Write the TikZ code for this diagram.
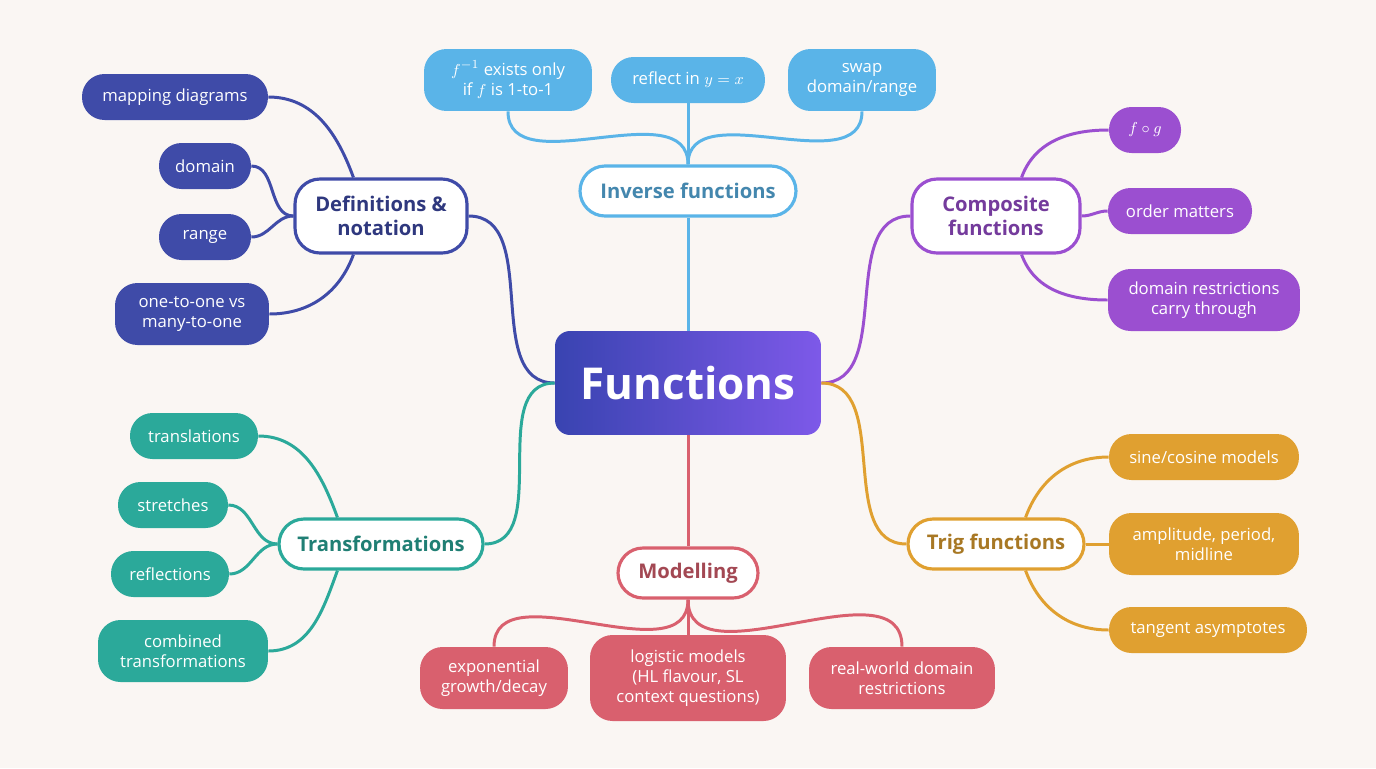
\documentclass[tikz,border=0pt]{standalone}
\usepackage{fontspec}
\setmainfont{Open Sans}
\usepackage{tikz}
\usetikzlibrary{backgrounds}
\definecolor{bgcol}{HTML}{FAF6F3}
\definecolor{defc}{HTML}{3F4BA8}
\definecolor{invc}{HTML}{5AB4E8}
\definecolor{comc}{HTML}{9B4FD0}
\definecolor{trgc}{HTML}{E0A030}
\definecolor{modc}{HTML}{D9606E}
\definecolor{trac}{HTML}{2BA99A}
\tikzset{
  leaf/.style={fill=#1, text=white, rounded corners=0.45cm, align=center,
    inner sep=0pt, minimum height=0.92cm, font=\fontsize{9.5}{11.5}\selectfont},
  branch/.style={draw=#1, line width=1.8pt, fill=white, text=#1!75!black,
    rounded corners=0.5cm, align=center, inner sep=0pt, minimum height=1cm,
    font=\fontsize{11.5}{14}\selectfont\bfseries},
  link/.style={draw=#1, line width=1.7pt}
}
\begin{document}
\begin{tikzpicture}[x=0.02cm,y=-0.02cm]
% centre
\node (fun) [left color=defc!90!blue, right color=comc!60!blue!80!white, text=white,
  rounded corners=0.3cm, minimum width=5.32cm, minimum height=2.08cm,
  font=\fontsize{25}{30}\selectfont\bfseries] at (688,383) {Functions};

% branches
\node (def) [branch=defc, minimum width=3.44cm, minimum height=1.48cm] at (381,216) {Definitions \&\\notation};
\node (inv) [branch=invc, minimum width=4.32cm] at (688,191) {Inverse functions};
\node (com) [branch=comc, minimum width=3.36cm, minimum height=1.48cm] at (996,216) {Composite\\functions};
\node (trg) [branch=trgc, minimum width=3.52cm] at (996,544) {Trig functions};
\node (mod) [branch=modc, minimum width=2.8cm] at (688,573) {Modelling};
\node (tra) [branch=trac, minimum width=4.08cm] at (381,544) {Transformations};

% leaves: definitions
\node (map) [leaf=defc, minimum width=3.72cm] at (175,97) {mapping diagrams};
\node (dom) [leaf=defc, minimum width=1.84cm] at (205,166) {domain};
\node (ran) [leaf=defc, minimum width=1.84cm] at (205,237) {range};
\node (one) [leaf=defc, minimum width=3.08cm, minimum height=1.24cm] at (192,314) {one-to-one vs\\many-to-one};

% leaves: inverse
\node (exi) [leaf=invc, minimum width=3.36cm, minimum height=1.24cm] at (508,80) {$f^{-1}$ exists only\\if $f$ is 1-to-1};
\node (ref) [leaf=invc, minimum width=3.08cm] at (688,80) {reflect in $y=x$};
\node (swp) [leaf=invc, minimum width=2.96cm, minimum height=1.24cm] at (862,80) {swap\\domain/range};

% leaves: composite
\node (fog) [leaf=comc, minimum width=1.44cm] at (1145,130) {$f\circ g$};
\node (ord) [leaf=comc, minimum width=2.88cm] at (1180,211) {order matters};
\node (dre) [leaf=comc, minimum width=3.84cm, minimum height=1.24cm] at (1204,300) {domain restrictions\\carry through};

% leaves: trig
\node (sin) [leaf=trgc, minimum width=3.8cm] at (1204,457) {sine/cosine models};
\node (amp) [leaf=trgc, minimum width=3.8cm, minimum height=1.24cm] at (1204,544) {amplitude, period,\\midline};
\node (tan) [leaf=trgc, minimum width=3.96cm] at (1208,630) {tangent asymptotes};

% leaves: modelling
\node (exp) [leaf=modc, minimum width=2.96cm, minimum height=1.24cm] at (494,678) {exponential\\growth/decay};
\node (log) [leaf=modc, minimum width=3.92cm, minimum height=1.72cm] at (688,678) {logistic models\\(HL flavour, SL\\context questions)};
\node (rwd) [leaf=modc, minimum width=3.72cm, minimum height=1.24cm] at (902,678) {real-world domain\\restrictions};

% leaves: transformations
\node (trn) [leaf=trac, minimum width=2.56cm] at (194,436) {translations};
\node (str) [leaf=trac, minimum width=2.2cm] at (173,505) {stretches};
\node (rfl) [leaf=trac, minimum width=2.36cm] at (170,574) {reflections};
\node (cmb) [leaf=trac, minimum width=3.4cm, minimum height=1.24cm] at (183,651) {combined\\transformations};

% connectors
\begin{scope}[on background layer]
\fill[bgcol] (0,0) rectangle (1376,768);
\draw[link=defc] (fun.west) to[out=180,in=0] (def.east);
\draw[link=invc] (fun.north) -- (inv.south);
\draw[link=comc] (fun.east) to[out=0,in=180] (com.west);
\draw[link=trgc] (fun.east) to[out=0,in=180] (trg.west);
\draw[link=modc] (fun.south) -- (mod.north);
\draw[link=trac] (fun.west) to[out=180,in=0] (tra.east);

\draw[link=defc] ([xshift=1.2cm]def.north west) to[out=110,in=0] (map.east);
\draw[link=defc] (def.west) to[out=180,in=0] (dom.east);
\draw[link=defc] (def.west) to[out=180,in=0] (ran.east);
\draw[link=defc] ([xshift=1.2cm]def.south west) to[out=250,in=0] (one.east);

\draw[link=invc] (inv.north) to[out=90,in=270] (exi.south);
\draw[link=invc] (inv.north) -- (ref.south);
\draw[link=invc] (inv.north) to[out=90,in=270] (swp.south);

\draw[link=comc] ([xshift=-1.2cm]com.north east) to[out=70,in=180] (fog.west);
\draw[link=comc] (com.east) to[out=0,in=180] (ord.west);
\draw[link=comc] ([xshift=-1.2cm]com.south east) to[out=290,in=180] (dre.west);

\draw[link=trgc] ([xshift=-1.2cm]trg.north east) to[out=70,in=180] (sin.west);
\draw[link=trgc] (trg.east) -- (amp.west);
\draw[link=trgc] ([xshift=-1.2cm]trg.south east) to[out=290,in=180] (tan.west);

\draw[link=modc] (mod.south) to[out=270,in=90] (exp.north);
\draw[link=modc] (mod.south) -- (log.north);
\draw[link=modc] (mod.south) to[out=270,in=90] (rwd.north);

\draw[link=trac] ([xshift=1.2cm]tra.north west) to[out=110,in=0] (trn.east);
\draw[link=trac] (tra.west) to[out=180,in=0] (str.east);
\draw[link=trac] (tra.west) to[out=180,in=0] (rfl.east);
\draw[link=trac] ([xshift=1.2cm]tra.south west) to[out=250,in=0] (cmb.east);
\end{scope}
\end{tikzpicture}
\end{document}
